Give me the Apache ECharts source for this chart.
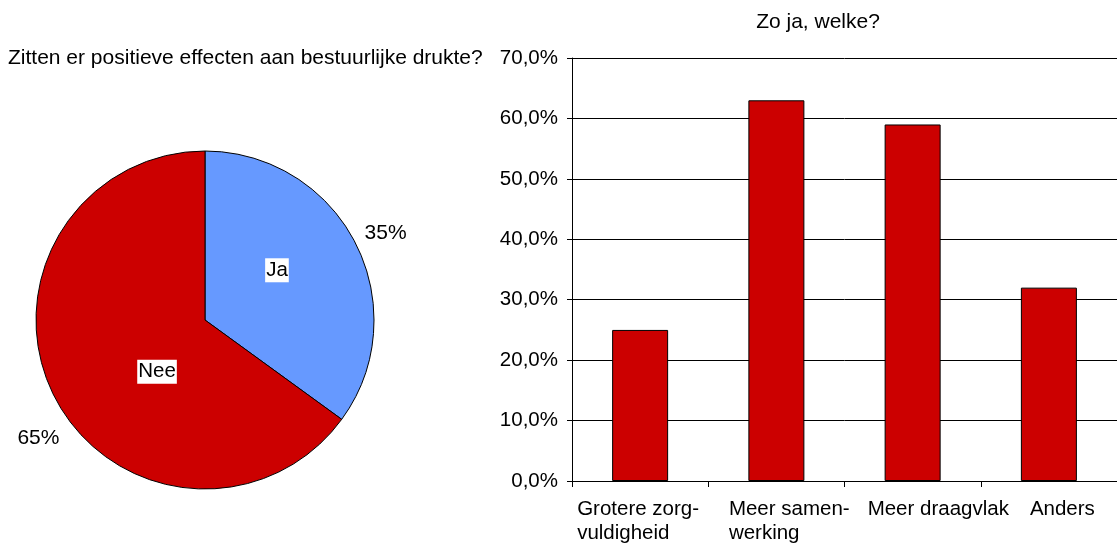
<!DOCTYPE html>
<html><head><meta charset="utf-8">
<script src="https://cdn.jsdelivr.net/npm/echarts@6/dist/echarts.min.js"></script>
<style>html,body{margin:0;padding:0;background:#fff}#c{width:1117px;height:545px}</style>
</head><body><div id="c"></div>
<script>
// ---- data ----
const pieTitle = 'Zitten er positieve effecten aan bestuurlijke drukte?';
const pieNames = ['Ja', 'Nee'];
const pieValues = [35, 65];
const barTitle = 'Zo ja, welke?';
const barCategories = ['Grotere zorg-\nvuldigheid', 'Meer samen-\nwerking', 'Meer draagvlak', 'Anders'];
const barValues = [25, 63, 59, 32];
const yMin = 0, yMax = 70, yStep = 10;

// ---- styling ----
const FONT = '"Liberation Sans", Arial, sans-serif';
const FS_T = 21;     // titles, pie percentages
const FS = 20.5;     // axis labels, slice names
const RED = '#CC0000', BLUE = '#6699FF';
const labelShift = [-2, 13, 26, 13.5];   // horizontal nudge of category labels (px)

const ctx = document.createElement('canvas').getContext('2d');
ctx.font = FS + 'px ' + FONT;
const rich = {};
barCategories.forEach((c, i) => {
  const w = Math.max(...c.split('\n').map(l => ctx.measureText(l).width));
  const s = labelShift[i];
  rich['l' + i] = {
    width: Math.ceil(w), align: 'left', fontSize: FS, fontFamily: FONT, color: '#000', lineHeight: 24,
    padding: s >= 0 ? [0, 0, 0, 2 * s] : [0, -2 * s, 0, 0]
  };
});

const chart = echarts.init(document.getElementById('c'), null, { renderer: 'canvas' });
const pieData = pieNames.map((n, i) => ({ name: n, value: pieValues[i] }));
const insideShift = [[-6, -10], [30, 12]];
const outsideShift = [[4, -10], [10, 41]];

chart.setOption({
  animation: false,
  textStyle: { fontFamily: FONT },
  title: [
    { text: pieTitle, left: 8, top: 48, padding: 0, textStyle: { fontSize: FS_T, fontWeight: 'normal', color: '#000', fontFamily: FONT } },
    { text: barTitle, left: 818, textAlign: 'center', top: 12, padding: 0, textStyle: { fontSize: FS_T, fontWeight: 'normal', color: '#000', fontFamily: FONT } }
  ],
  grid: { left: 572, right: -4, top: 58, bottom: 61, containLabel: false },
  xAxis: {
    type: 'category', data: barCategories,
    axisLine: { lineStyle: { color: '#000', width: 1 } },
    axisTick: { show: true, length: 6, lineStyle: { color: '#000' } },
    axisLabel: {
      interval: 0, margin: 16, fontSize: FS, color: '#000', lineHeight: 24,
      formatter: (v, i) => v.split('\n').map(l => '{l' + i + '|' + l + '}').join('\n'),
      rich: rich
    }
  },
  yAxis: {
    type: 'value', min: yMin, max: yMax, interval: yStep,
    axisLine: { show: true, lineStyle: { color: '#000', width: 1 } },
    axisTick: { show: true, length: 5, lineStyle: { color: '#000' } },
    axisLabel: { margin: 14, fontSize: FS, color: '#000', formatter: v => v.toFixed(1).replace('.', ',') + '%' },
    splitLine: { show: true, lineStyle: { color: '#000', width: 1 } }
  },
  series: [
    {
      type: 'bar', data: barValues, barWidth: 56,
      itemStyle: { color: RED, borderColor: '#000', borderWidth: 1 },
      silent: true
    },
    {
      type: 'pie', center: [205, 320], radius: 169, startAngle: 90, clockwise: true,
      data: pieData,
      itemStyle: { borderColor: '#000', borderWidth: 1 },
      color: [BLUE, RED],
      label: { position: 'inside', formatter: '{b}', color: '#000', fontSize: FS, backgroundColor: '#fff', padding: [2, 1, 1, 1] },
      labelLayout: p => ({ dx: insideShift[p.dataIndex][0], dy: insideShift[p.dataIndex][1] }),
      labelLine: { show: false },
      emphasis: { disabled: true }, silent: true
    },
    {
      type: 'pie', center: [205, 320], radius: 169, startAngle: 90, clockwise: true,
      data: pieData,
      itemStyle: { color: 'rgba(0,0,0,0)', borderWidth: 0 },
      label: { position: 'outside', formatter: '{d}%', color: '#000', fontSize: FS_T, overflow: 'none', edgeDistance: 0 },
      labelLayout: p => ({ dx: outsideShift[p.dataIndex][0], dy: outsideShift[p.dataIndex][1] }),
      labelLine: { show: false, length: 0, length2: 0 },
      emphasis: { disabled: true }, silent: true
    }
  ]
});
</script></body></html>
